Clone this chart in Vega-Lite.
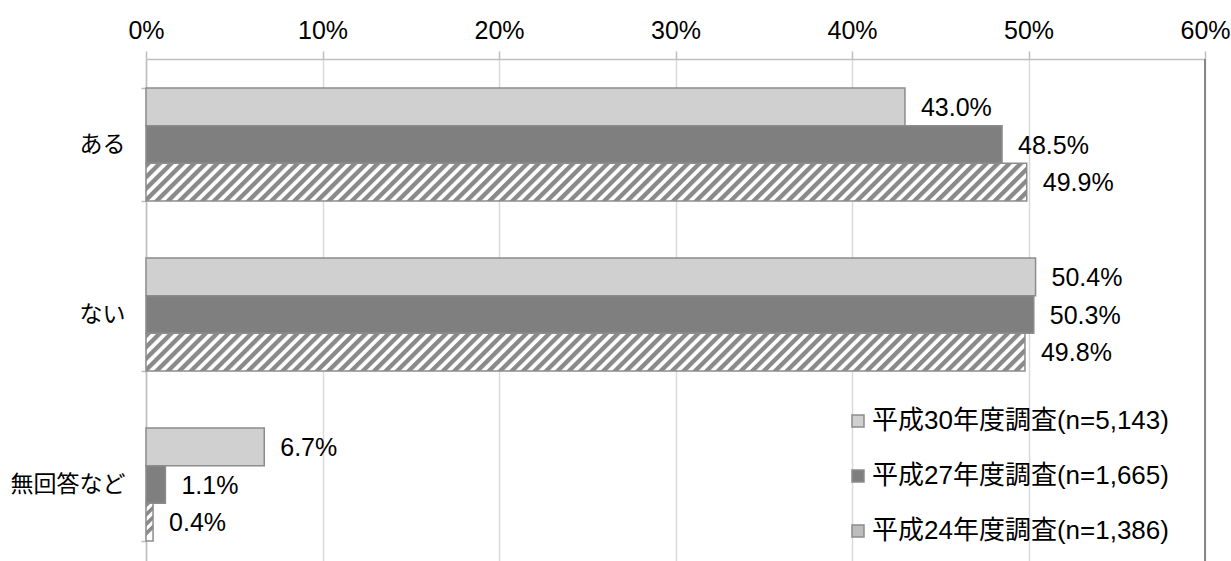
{
  "$schema": "https://vega.github.io/schema/vega-lite/v6.json",
  "width": 1059,
  "height": 502,
  "autosize": {"type": "none"},
  "padding": {"left": 146, "top": 59, "right": 26, "bottom": 0},
  "background": "white",
  "config": {"view": {"stroke": null}, "font": "Liberation Sans"},
  "data": {
    "values": [
      {"category": "ある", "survey": "平成30年度調査(n=5,143)", "value": 0.430},
      {"category": "ある", "survey": "平成27年度調査(n=1,665)", "value": 0.485},
      {"category": "ある", "survey": "平成24年度調査(n=1,386)", "value": 0.499},
      {"category": "ない", "survey": "平成30年度調査(n=5,143)", "value": 0.504},
      {"category": "ない", "survey": "平成27年度調査(n=1,665)", "value": 0.503},
      {"category": "ない", "survey": "平成24年度調査(n=1,386)", "value": 0.498},
      {"category": "無回答など", "survey": "平成30年度調査(n=5,143)", "value": 0.067},
      {"category": "無回答など", "survey": "平成27年度調査(n=1,665)", "value": 0.011},
      {"category": "無回答など", "survey": "平成24年度調査(n=1,386)", "value": 0.004}
    ]
  },
  "layer": [
    {
      "mark": {"type": "bar", "stroke": "#8c8c8c", "strokeWidth": 1.5},
      "encoding": {
        "y": {"field": "category", "type": "nominal", "sort": ["ある", "ない", "無回答など"],
          "scale": {"paddingInner": 0.335, "paddingOuter": 0.144, "align": 0.592},
          "axis": {"title": null, "labelFont": "Noto Sans CJK JP", "labelFontSize": 23, "labelColor": "#000000", "labelPadding": 16, "tickSize": 5, "tickColor": "#bfbfbf", "tickWidth": 1.5, "domainColor": "#bfbfbf", "domainWidth": 1.5, "tickBand": "extent", "tickOffset": 28.5, "grid": false}},
        "yOffset": {"field": "survey", "type": "nominal", "sort": ["平成30年度調査(n=5,143)", "平成27年度調査(n=1,665)", "平成24年度調査(n=1,386)"]},
        "x": {"field": "value", "type": "quantitative", "scale": {"domain": [0, 0.6], "nice": false},
          "axis": {"orient": "top", "title": null, "format": ".0%", "values": [0, 0.1, 0.2, 0.3, 0.4, 0.5, 0.6], "grid": true, "gridColor": "#d9d9d9", "gridWidth": 1.5, "domainColor": "#bfbfbf", "domainWidth": 1.5, "tickColor": "#bfbfbf", "tickWidth": 1.5, "tickSize": 8, "labelFont": "Liberation Sans", "labelFontSize": 25, "labelColor": "#000000", "labelPadding": 8, "labelFlush": false, "labelOverlap": false}},
        "fill": {
          "field": "survey", "type": "nominal",
          "sort": ["平成30年度調査(n=5,143)", "平成27年度調査(n=1,665)", "平成24年度調査(n=1,386)"],
          "scale": {"domain": ["平成30年度調査(n=5,143)", "平成27年度調査(n=1,665)", "平成24年度調査(n=1,386)"], "range": ["#d0d0d0", "#7f7f7f", "#bdbdbd"]},
          "legend": {
            "title": null, "orient": "none", "legendX": 699, "legendY": 349, "direction": "vertical",
            "symbolType": "square", "symbolSize": 144, "symbolStrokeColor": "#8c8c8c", "symbolStrokeWidth": 1.5,
            "labelFont": "Liberation Sans, Noto Sans CJK JP", "labelFontSize": 26, "labelColor": "#000000", "labelOffset": 1, "labelLimit": 0, "rowPadding": 29, "padding": 0
          },
          "condition": [
            {"test": "datum.survey === '平成24年度調査(n=1,386)' && datum.value < 0.01", "value": {"gradient": "linear", "x1": 0, "y1": 0, "x2": 0.16, "y2": 0.87, "stops": [
              {"offset": 0, "color": "#8a8a8a"}, {"offset": 0.11, "color": "#8a8a8a"}, {"offset": 0.155, "color": "#ffffff"}, {"offset": 0.245, "color": "#ffffff"},
              {"offset": 0.28, "color": "#8a8a8a"}, {"offset": 0.39, "color": "#8a8a8a"}, {"offset": 0.435, "color": "#ffffff"}, {"offset": 0.525, "color": "#ffffff"},
              {"offset": 0.56, "color": "#8a8a8a"}, {"offset": 0.67, "color": "#8a8a8a"}, {"offset": 0.715, "color": "#ffffff"}, {"offset": 0.805, "color": "#ffffff"},
              {"offset": 0.84, "color": "#8a8a8a"}, {"offset": 0.95, "color": "#8a8a8a"}, {"offset": 0.995, "color": "#ffffff"}, {"offset": 1, "color": "#ffffff"}]}},
            {"test": "datum.survey === '平成24年度調査(n=1,386)'", "value": {"gradient": "linear", "x1": 0, "y1": 0, "x2": 1.0409, "y2": 0.0446, "stops": [
{"offset":0,"color":"#8a8a8a"},{"offset":0.005,"color":"#8a8a8a"},{"offset":0.007,"color":"#ffffff"},{"offset":0.011,"color":"#ffffff"},
{"offset":0.0125,"color":"#8a8a8a"},{"offset":0.0175,"color":"#8a8a8a"},{"offset":0.0195,"color":"#ffffff"},{"offset":0.0235,"color":"#ffffff"},
{"offset":0.025,"color":"#8a8a8a"},{"offset":0.03,"color":"#8a8a8a"},{"offset":0.032,"color":"#ffffff"},{"offset":0.036,"color":"#ffffff"},
{"offset":0.0375,"color":"#8a8a8a"},{"offset":0.0425,"color":"#8a8a8a"},{"offset":0.0445,"color":"#ffffff"},{"offset":0.0485,"color":"#ffffff"},
{"offset":0.05,"color":"#8a8a8a"},{"offset":0.055,"color":"#8a8a8a"},{"offset":0.057,"color":"#ffffff"},{"offset":0.061,"color":"#ffffff"},
{"offset":0.0625,"color":"#8a8a8a"},{"offset":0.0675,"color":"#8a8a8a"},{"offset":0.0695,"color":"#ffffff"},{"offset":0.0735,"color":"#ffffff"},
{"offset":0.075,"color":"#8a8a8a"},{"offset":0.08,"color":"#8a8a8a"},{"offset":0.082,"color":"#ffffff"},{"offset":0.086,"color":"#ffffff"},
{"offset":0.0875,"color":"#8a8a8a"},{"offset":0.0925,"color":"#8a8a8a"},{"offset":0.0945,"color":"#ffffff"},{"offset":0.0985,"color":"#ffffff"},
{"offset":0.1,"color":"#8a8a8a"},{"offset":0.105,"color":"#8a8a8a"},{"offset":0.107,"color":"#ffffff"},{"offset":0.111,"color":"#ffffff"},
{"offset":0.1125,"color":"#8a8a8a"},{"offset":0.1175,"color":"#8a8a8a"},{"offset":0.1195,"color":"#ffffff"},{"offset":0.1235,"color":"#ffffff"},
{"offset":0.125,"color":"#8a8a8a"},{"offset":0.13,"color":"#8a8a8a"},{"offset":0.132,"color":"#ffffff"},{"offset":0.136,"color":"#ffffff"},
{"offset":0.1375,"color":"#8a8a8a"},{"offset":0.1425,"color":"#8a8a8a"},{"offset":0.1445,"color":"#ffffff"},{"offset":0.1485,"color":"#ffffff"},
{"offset":0.15,"color":"#8a8a8a"},{"offset":0.155,"color":"#8a8a8a"},{"offset":0.157,"color":"#ffffff"},{"offset":0.161,"color":"#ffffff"},
{"offset":0.1625,"color":"#8a8a8a"},{"offset":0.1675,"color":"#8a8a8a"},{"offset":0.1695,"color":"#ffffff"},{"offset":0.1735,"color":"#ffffff"},
{"offset":0.175,"color":"#8a8a8a"},{"offset":0.18,"color":"#8a8a8a"},{"offset":0.182,"color":"#ffffff"},{"offset":0.186,"color":"#ffffff"},
{"offset":0.1875,"color":"#8a8a8a"},{"offset":0.1925,"color":"#8a8a8a"},{"offset":0.1945,"color":"#ffffff"},{"offset":0.1985,"color":"#ffffff"},
{"offset":0.2,"color":"#8a8a8a"},{"offset":0.205,"color":"#8a8a8a"},{"offset":0.207,"color":"#ffffff"},{"offset":0.211,"color":"#ffffff"},
{"offset":0.2125,"color":"#8a8a8a"},{"offset":0.2175,"color":"#8a8a8a"},{"offset":0.2195,"color":"#ffffff"},{"offset":0.2235,"color":"#ffffff"},
{"offset":0.225,"color":"#8a8a8a"},{"offset":0.23,"color":"#8a8a8a"},{"offset":0.232,"color":"#ffffff"},{"offset":0.236,"color":"#ffffff"},
{"offset":0.2375,"color":"#8a8a8a"},{"offset":0.2425,"color":"#8a8a8a"},{"offset":0.2445,"color":"#ffffff"},{"offset":0.2485,"color":"#ffffff"},
{"offset":0.25,"color":"#8a8a8a"},{"offset":0.255,"color":"#8a8a8a"},{"offset":0.257,"color":"#ffffff"},{"offset":0.261,"color":"#ffffff"},
{"offset":0.2625,"color":"#8a8a8a"},{"offset":0.2675,"color":"#8a8a8a"},{"offset":0.2695,"color":"#ffffff"},{"offset":0.2735,"color":"#ffffff"},
{"offset":0.275,"color":"#8a8a8a"},{"offset":0.28,"color":"#8a8a8a"},{"offset":0.282,"color":"#ffffff"},{"offset":0.286,"color":"#ffffff"},
{"offset":0.2875,"color":"#8a8a8a"},{"offset":0.2925,"color":"#8a8a8a"},{"offset":0.2945,"color":"#ffffff"},{"offset":0.2985,"color":"#ffffff"},
{"offset":0.3,"color":"#8a8a8a"},{"offset":0.305,"color":"#8a8a8a"},{"offset":0.307,"color":"#ffffff"},{"offset":0.311,"color":"#ffffff"},
{"offset":0.3125,"color":"#8a8a8a"},{"offset":0.3175,"color":"#8a8a8a"},{"offset":0.3195,"color":"#ffffff"},{"offset":0.3235,"color":"#ffffff"},
{"offset":0.325,"color":"#8a8a8a"},{"offset":0.33,"color":"#8a8a8a"},{"offset":0.332,"color":"#ffffff"},{"offset":0.336,"color":"#ffffff"},
{"offset":0.3375,"color":"#8a8a8a"},{"offset":0.3425,"color":"#8a8a8a"},{"offset":0.3445,"color":"#ffffff"},{"offset":0.3485,"color":"#ffffff"},
{"offset":0.35,"color":"#8a8a8a"},{"offset":0.355,"color":"#8a8a8a"},{"offset":0.357,"color":"#ffffff"},{"offset":0.361,"color":"#ffffff"},
{"offset":0.3625,"color":"#8a8a8a"},{"offset":0.3675,"color":"#8a8a8a"},{"offset":0.3695,"color":"#ffffff"},{"offset":0.3735,"color":"#ffffff"},
{"offset":0.375,"color":"#8a8a8a"},{"offset":0.38,"color":"#8a8a8a"},{"offset":0.382,"color":"#ffffff"},{"offset":0.386,"color":"#ffffff"},
{"offset":0.3875,"color":"#8a8a8a"},{"offset":0.3925,"color":"#8a8a8a"},{"offset":0.3945,"color":"#ffffff"},{"offset":0.3985,"color":"#ffffff"},
{"offset":0.4,"color":"#8a8a8a"},{"offset":0.405,"color":"#8a8a8a"},{"offset":0.407,"color":"#ffffff"},{"offset":0.411,"color":"#ffffff"},
{"offset":0.4125,"color":"#8a8a8a"},{"offset":0.4175,"color":"#8a8a8a"},{"offset":0.4195,"color":"#ffffff"},{"offset":0.4235,"color":"#ffffff"},
{"offset":0.425,"color":"#8a8a8a"},{"offset":0.43,"color":"#8a8a8a"},{"offset":0.432,"color":"#ffffff"},{"offset":0.436,"color":"#ffffff"},
{"offset":0.4375,"color":"#8a8a8a"},{"offset":0.4425,"color":"#8a8a8a"},{"offset":0.4445,"color":"#ffffff"},{"offset":0.4485,"color":"#ffffff"},
{"offset":0.45,"color":"#8a8a8a"},{"offset":0.455,"color":"#8a8a8a"},{"offset":0.457,"color":"#ffffff"},{"offset":0.461,"color":"#ffffff"},
{"offset":0.4625,"color":"#8a8a8a"},{"offset":0.4675,"color":"#8a8a8a"},{"offset":0.4695,"color":"#ffffff"},{"offset":0.4735,"color":"#ffffff"},
{"offset":0.475,"color":"#8a8a8a"},{"offset":0.48,"color":"#8a8a8a"},{"offset":0.482,"color":"#ffffff"},{"offset":0.486,"color":"#ffffff"},
{"offset":0.4875,"color":"#8a8a8a"},{"offset":0.4925,"color":"#8a8a8a"},{"offset":0.4945,"color":"#ffffff"},{"offset":0.4985,"color":"#ffffff"},
{"offset":0.5,"color":"#8a8a8a"},{"offset":0.505,"color":"#8a8a8a"},{"offset":0.507,"color":"#ffffff"},{"offset":0.511,"color":"#ffffff"},
{"offset":0.5125,"color":"#8a8a8a"},{"offset":0.5175,"color":"#8a8a8a"},{"offset":0.5195,"color":"#ffffff"},{"offset":0.5235,"color":"#ffffff"},
{"offset":0.525,"color":"#8a8a8a"},{"offset":0.53,"color":"#8a8a8a"},{"offset":0.532,"color":"#ffffff"},{"offset":0.536,"color":"#ffffff"},
{"offset":0.5375,"color":"#8a8a8a"},{"offset":0.5425,"color":"#8a8a8a"},{"offset":0.5445,"color":"#ffffff"},{"offset":0.5485,"color":"#ffffff"},
{"offset":0.55,"color":"#8a8a8a"},{"offset":0.555,"color":"#8a8a8a"},{"offset":0.557,"color":"#ffffff"},{"offset":0.561,"color":"#ffffff"},
{"offset":0.5625,"color":"#8a8a8a"},{"offset":0.5675,"color":"#8a8a8a"},{"offset":0.5695,"color":"#ffffff"},{"offset":0.5735,"color":"#ffffff"},
{"offset":0.575,"color":"#8a8a8a"},{"offset":0.58,"color":"#8a8a8a"},{"offset":0.582,"color":"#ffffff"},{"offset":0.586,"color":"#ffffff"},
{"offset":0.5875,"color":"#8a8a8a"},{"offset":0.5925,"color":"#8a8a8a"},{"offset":0.5945,"color":"#ffffff"},{"offset":0.5985,"color":"#ffffff"},
{"offset":0.6,"color":"#8a8a8a"},{"offset":0.605,"color":"#8a8a8a"},{"offset":0.607,"color":"#ffffff"},{"offset":0.611,"color":"#ffffff"},
{"offset":0.6125,"color":"#8a8a8a"},{"offset":0.6175,"color":"#8a8a8a"},{"offset":0.6195,"color":"#ffffff"},{"offset":0.6235,"color":"#ffffff"},
{"offset":0.625,"color":"#8a8a8a"},{"offset":0.63,"color":"#8a8a8a"},{"offset":0.632,"color":"#ffffff"},{"offset":0.636,"color":"#ffffff"},
{"offset":0.6375,"color":"#8a8a8a"},{"offset":0.6425,"color":"#8a8a8a"},{"offset":0.6445,"color":"#ffffff"},{"offset":0.6485,"color":"#ffffff"},
{"offset":0.65,"color":"#8a8a8a"},{"offset":0.655,"color":"#8a8a8a"},{"offset":0.657,"color":"#ffffff"},{"offset":0.661,"color":"#ffffff"},
{"offset":0.6625,"color":"#8a8a8a"},{"offset":0.6675,"color":"#8a8a8a"},{"offset":0.6695,"color":"#ffffff"},{"offset":0.6735,"color":"#ffffff"},
{"offset":0.675,"color":"#8a8a8a"},{"offset":0.68,"color":"#8a8a8a"},{"offset":0.682,"color":"#ffffff"},{"offset":0.686,"color":"#ffffff"},
{"offset":0.6875,"color":"#8a8a8a"},{"offset":0.6925,"color":"#8a8a8a"},{"offset":0.6945,"color":"#ffffff"},{"offset":0.6985,"color":"#ffffff"},
{"offset":0.7,"color":"#8a8a8a"},{"offset":0.705,"color":"#8a8a8a"},{"offset":0.707,"color":"#ffffff"},{"offset":0.711,"color":"#ffffff"},
{"offset":0.7125,"color":"#8a8a8a"},{"offset":0.7175,"color":"#8a8a8a"},{"offset":0.7195,"color":"#ffffff"},{"offset":0.7235,"color":"#ffffff"},
{"offset":0.725,"color":"#8a8a8a"},{"offset":0.73,"color":"#8a8a8a"},{"offset":0.732,"color":"#ffffff"},{"offset":0.736,"color":"#ffffff"},
{"offset":0.7375,"color":"#8a8a8a"},{"offset":0.7425,"color":"#8a8a8a"},{"offset":0.7445,"color":"#ffffff"},{"offset":0.7485,"color":"#ffffff"},
{"offset":0.75,"color":"#8a8a8a"},{"offset":0.755,"color":"#8a8a8a"},{"offset":0.757,"color":"#ffffff"},{"offset":0.761,"color":"#ffffff"},
{"offset":0.7625,"color":"#8a8a8a"},{"offset":0.7675,"color":"#8a8a8a"},{"offset":0.7695,"color":"#ffffff"},{"offset":0.7735,"color":"#ffffff"},
{"offset":0.775,"color":"#8a8a8a"},{"offset":0.78,"color":"#8a8a8a"},{"offset":0.782,"color":"#ffffff"},{"offset":0.786,"color":"#ffffff"},
{"offset":0.7875,"color":"#8a8a8a"},{"offset":0.7925,"color":"#8a8a8a"},{"offset":0.7945,"color":"#ffffff"},{"offset":0.7985,"color":"#ffffff"},
{"offset":0.8,"color":"#8a8a8a"},{"offset":0.805,"color":"#8a8a8a"},{"offset":0.807,"color":"#ffffff"},{"offset":0.811,"color":"#ffffff"},
{"offset":0.8125,"color":"#8a8a8a"},{"offset":0.8175,"color":"#8a8a8a"},{"offset":0.8195,"color":"#ffffff"},{"offset":0.8235,"color":"#ffffff"},
{"offset":0.825,"color":"#8a8a8a"},{"offset":0.83,"color":"#8a8a8a"},{"offset":0.832,"color":"#ffffff"},{"offset":0.836,"color":"#ffffff"},
{"offset":0.8375,"color":"#8a8a8a"},{"offset":0.8425,"color":"#8a8a8a"},{"offset":0.8445,"color":"#ffffff"},{"offset":0.8485,"color":"#ffffff"},
{"offset":0.85,"color":"#8a8a8a"},{"offset":0.855,"color":"#8a8a8a"},{"offset":0.857,"color":"#ffffff"},{"offset":0.861,"color":"#ffffff"},
{"offset":0.8625,"color":"#8a8a8a"},{"offset":0.8675,"color":"#8a8a8a"},{"offset":0.8695,"color":"#ffffff"},{"offset":0.8735,"color":"#ffffff"},
{"offset":0.875,"color":"#8a8a8a"},{"offset":0.88,"color":"#8a8a8a"},{"offset":0.882,"color":"#ffffff"},{"offset":0.886,"color":"#ffffff"},
{"offset":0.8875,"color":"#8a8a8a"},{"offset":0.8925,"color":"#8a8a8a"},{"offset":0.8945,"color":"#ffffff"},{"offset":0.8985,"color":"#ffffff"},
{"offset":0.9,"color":"#8a8a8a"},{"offset":0.905,"color":"#8a8a8a"},{"offset":0.907,"color":"#ffffff"},{"offset":0.911,"color":"#ffffff"},
{"offset":0.9125,"color":"#8a8a8a"},{"offset":0.9175,"color":"#8a8a8a"},{"offset":0.9195,"color":"#ffffff"},{"offset":0.9235,"color":"#ffffff"},
{"offset":0.925,"color":"#8a8a8a"},{"offset":0.93,"color":"#8a8a8a"},{"offset":0.932,"color":"#ffffff"},{"offset":0.936,"color":"#ffffff"},
{"offset":0.9375,"color":"#8a8a8a"},{"offset":0.9425,"color":"#8a8a8a"},{"offset":0.9445,"color":"#ffffff"},{"offset":0.9485,"color":"#ffffff"},
{"offset":0.95,"color":"#8a8a8a"},{"offset":0.955,"color":"#8a8a8a"},{"offset":0.957,"color":"#ffffff"},{"offset":0.961,"color":"#ffffff"},
{"offset":0.9625,"color":"#8a8a8a"},{"offset":0.9675,"color":"#8a8a8a"},{"offset":0.9695,"color":"#ffffff"},{"offset":0.9735,"color":"#ffffff"},
{"offset":0.975,"color":"#8a8a8a"},{"offset":0.98,"color":"#8a8a8a"},{"offset":0.982,"color":"#ffffff"},{"offset":0.986,"color":"#ffffff"},
{"offset":0.9875,"color":"#8a8a8a"},{"offset":0.9925,"color":"#8a8a8a"},{"offset":0.9945,"color":"#ffffff"},{"offset":1,"color":"#ffffff"}
            ]}}
          ]
        }
      }
    },
    {
      "mark": {"type": "text", "align": "left", "baseline": "middle", "dx": 16, "dy": 1, "fontSize": 25, "font": "Liberation Sans", "color": "#000000"},
      "encoding": {
        "y": {"field": "category", "type": "nominal", "sort": ["ある", "ない", "無回答など"]},
        "yOffset": {"field": "survey", "type": "nominal", "sort": ["平成30年度調査(n=5,143)", "平成27年度調査(n=1,665)", "平成24年度調査(n=1,386)"]},
        "x": {"field": "value", "type": "quantitative"},
        "text": {"field": "value", "type": "quantitative", "format": ".1%"}
      }
    },
    {
      "mark": {"type": "rule", "color": "#878787", "strokeWidth": 2},
      "encoding": {"x": {"datum": 0.6}}
    }
  ]
}
